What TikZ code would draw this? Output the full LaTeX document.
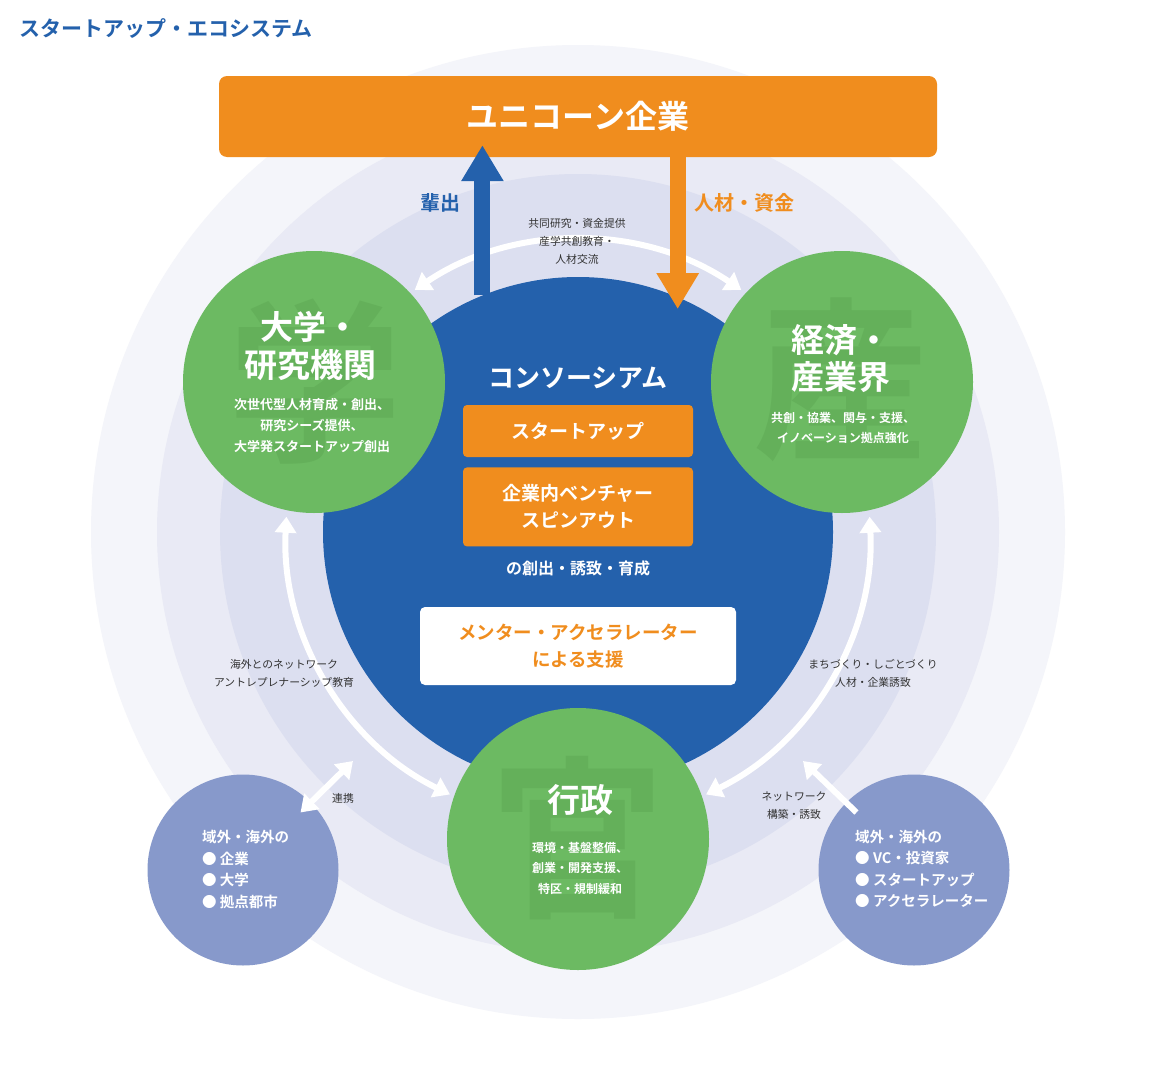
\documentclass[tikz,border=0pt]{standalone}
\usepackage{fontspec}
\setmainfont{Noto Sans CJK JP}[BoldFont={Noto Sans CJK JP Bold}]
\usetikzlibrary{arrows.meta, positioning, calc}

\definecolor{ecoblue}{HTML}{2461AC}
\definecolor{ecoorange}{HTML}{F08D1E}
\definecolor{ecogreen}{HTML}{6CBA62}
\definecolor{wmgreen}{HTML}{64B05A}
\definecolor{ecolav}{HTML}{8799CB}
\definecolor{ringa}{HTML}{F4F5FA}
\definecolor{ringb}{HTML}{E9EAF5}
\definecolor{ringc}{HTML}{DCDFF0}
\definecolor{ecotext}{HTML}{333333}

\begin{document}
\begin{tikzpicture}[x=1pt, y=-1pt,
    disc/.style={circle, inner sep=0pt, minimum size=#1},
    sector/.style={disc=262pt, fill=ecogreen},
    partner/.style={disc=191pt, fill=ecolav},
    sectortitle/.style={text=white, font=\bfseries\fontsize{33}{37.5}\selectfont, align=center, inner sep=0pt},
    sectortext/.style={text=white, font=\bfseries\fontsize{12.5}{20.5}\selectfont, align=center, inner sep=0pt},
    watermark/.style={text=wmgreen, font=\bfseries\fontsize{175}{175}\selectfont, inner sep=0pt},
    partnertext/.style={text=white, font=\bfseries\fontsize{14.5}{21.5}\selectfont, align=left, inner sep=0pt, anchor=west},
    orangebox/.style={rectangle, fill=ecoorange, rounded corners=4pt, minimum width=230pt, text=white, font=\bfseries\fontsize{19}{27}\selectfont, align=center},
    note/.style={text=ecotext, font=\fontsize{10.8}{18}\selectfont, align=center, inner sep=0pt},
    flowlabel/.style={font=\bfseries\fontsize{20}{24}\selectfont, inner sep=0pt},
    bigarrow/.style={line width=16pt, -{Triangle[width=40pt, length=36pt]}},
    ringarrow/.style={line width=6pt, white, {Triangle[width=21pt, length=16pt]}-{Triangle[width=21pt, length=16pt]}},
    linkarrow/.style={line width=6pt, white, -{Triangle[width=21pt, length=16pt]}}]

  \useasboundingbox (0,0) rectangle (1154,1068);
  \fill[white] (0,0) rectangle (1154,1068);

  \node[disc=974pt, fill=ringa] (outer) at (578,532) {};
  \node[disc=842pt, fill=ringb] (middle) at (578,532) {};
  \node[disc=716pt, fill=ringc] (inner) at (578,532) {};
  \node[disc=510pt, fill=ecoblue] (cons) at (578,532) {};

  \node[anchor=west, text=ecoblue, font=\bfseries\fontsize{21}{25}\selectfont, inner sep=0pt] (title) at (19,29) {スタートアップ・エコシステム};

  \coordinate (ta) at ([shift={(124:292pt)}]cons.center);
  \coordinate (la) at ([shift={(177:292pt)}]cons.center);
  \coordinate (ra) at ([shift={(3:292pt)}]cons.center);
  \draw[ringarrow] (ta) arc[start angle=124, end angle=56, radius=292pt];
  \draw[ringarrow] (la) arc[start angle=177, end angle=244, radius=292pt];
  \draw[ringarrow] (ra) arc[start angle=3, end angle=-64, radius=292pt];

  \node[sector] (academia) at (314,382) {};
  \node[sector] (industry) at (842,382) {};
  \node[sector] (govt) at (578,839) {};
  \node[partner] (partnerl) at (243,870) {};
  \node[partner] (partnerr) at (914,870) {};

  \coordinate (lnk) at (353,761);
  \coordinate (nwk) at (803,761);
  \draw[ringarrow] ($(partnerl)!0.85!(partnerl.45)$) -- (lnk);
  \draw[linkarrow] ($(partnerr)!0.85!(partnerr.135)$) -- (nwk);

  \node[watermark] (academiawm) at (315,382) {学};
  \node[watermark] (industrywm) at (841,380) {産};
  \node[watermark] (govtwm) at (578,838) {官};

  \node[sectortitle] (academiatitle) at (310,346) {大学・\\研究機関};
  \node[sectortext, font=\bfseries\fontsize{13}{21}\selectfont] (academiatext) at (312,426) {次世代型人材育成・創出、\\研究シーズ提供、\\大学発スタートアップ創出};
  \node[sectortitle] (industrytitle) at (841,358.5) {経済・\\産業界};
  \node[sectortext, font=\bfseries\fontsize{12}{20}\selectfont] (industrytext) at (843,428) {共創・協業、関与・支援、\\イノベーション拠点強化};
  \node[sectortitle] (govttitle) at (580,800) {行政};
  \node[sectortext, font=\bfseries\fontsize{12}{20.5}\selectfont] (govttext) at (580,868) {環境・基盤整備、\\創業・開発支援、\\特区・規制緩和};

  \node[partnertext] (partnerltext) at (202,869.5) {域外・海外の\\● 企業\\● 大学\\● 拠点都市};
  \node[partnertext] (partnerrtext) at (855,869) {域外・海外の\\● VC・投資家\\● スタートアップ\\● アクセラレーター};

  \node[text=white, font=\bfseries\fontsize{26}{30}\selectfont, inner sep=0pt] (constitle) at (578,378) {コンソーシアム};
  \node[orangebox, minimum height=52pt] (startup) at (578,431) {スタートアップ};
  \node[orangebox, minimum height=79pt, below=10pt of startup] (venture) {企業内ベンチャー\\スピンアウト};
  \node[text=white, font=\bfseries\fontsize{16}{20}\selectfont, inner sep=0pt, below=14pt of venture] (creation) {の創出・誘致・育成};
  \node[rectangle, fill=white, rounded corners=5pt, minimum width=316pt, minimum height=78pt, text=ecoorange, font=\bfseries\fontsize{18.5}{27}\selectfont, align=center] (mentor) at (578,646) {メンター・アクセラレーター\\による支援};

  \node[note] (jointnote) at (577,241.5) {共同研究・資金提供\\産学共創教育・\\人材交流};
  \node[note] (leftnote) at (284,673) {海外とのネットワーク\\アントレプレナーシップ教育};
  \node[note] (rightnote) at (873,673) {まちづくり・しごとづくり\\人材・企業誘致};
  \node[note] (linknote) at (343,798) {連携};
  \node[note] (nwknote) at (794,806) {ネットワーク\\構築・誘致};

  \node[rectangle, fill=ecoorange, rounded corners=8pt, minimum width=718pt, minimum height=81pt, text=white, font=\bfseries\fontsize{32}{36}\selectfont] (unicorn) at (578,116.5) {ユニコーン企業};

  \draw[bigarrow, ecoblue] (cons.112.4) -- ($(unicorn.south -| cons.112.4)+(0,-12)$);
  \draw[bigarrow, ecoorange] (unicorn.south -| cons.67.4) -- ($(cons.67.4)+(0,12)$);

  \node[flowlabel, text=ecoblue] (spawn) at (440,203) {輩出};
  \node[flowlabel, text=ecoorange] (funds) at (744,203) {人材・資金};
\end{tikzpicture}
\end{document}
